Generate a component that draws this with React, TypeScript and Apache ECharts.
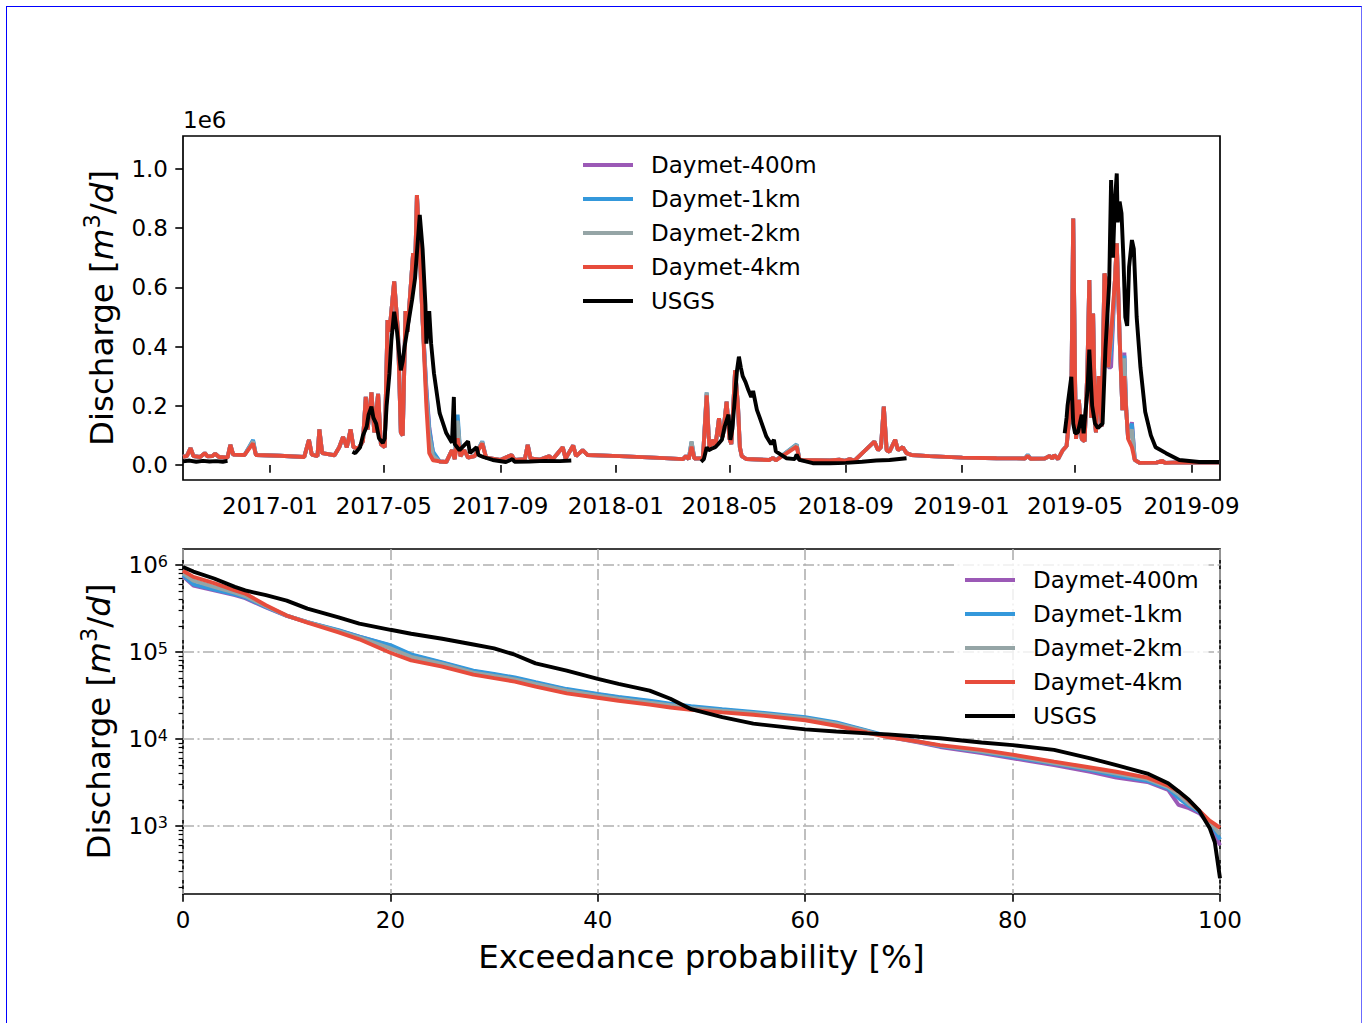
import React, { useEffect, useRef } from 'react';
import * as echarts from 'echarts';

const FONT = "'DejaVu Sans', sans-serif";

const seriesNames = ['Daymet-400m', 'Daymet-1km', 'Daymet-2km', 'Daymet-4km', 'USGS'];
const seriesColors = ['#9b59b6', '#3498db', '#95a5a6', '#e74c3c', '#000000'];

// ---------- top panel: daily discharge [m3/d] ----------
const daymet4km: [string, number][] = [
  ['2016-10-01', 28000], ['2016-10-05', 30000], ['2016-10-09', 57000], ['2016-10-12', 30000],
  ['2016-10-19', 27000], ['2016-10-24', 40000], ['2016-10-27', 29000], ['2016-11-01', 30000],
  ['2016-11-04', 38000], ['2016-11-08', 27000], ['2016-11-17', 25000], ['2016-11-20', 68000],
  ['2016-11-23', 35000], ['2016-12-05', 34000], ['2016-12-14', 73000], ['2016-12-17', 34000],
  ['2017-01-11', 31000], ['2017-02-06', 27000], ['2017-02-11', 85000], ['2017-02-14', 35000],
  ['2017-02-20', 30000], ['2017-02-22', 120000], ['2017-02-25', 40000], ['2017-03-10', 33000],
  ['2017-03-15', 60000], ['2017-03-19', 95000], ['2017-03-23', 60000], ['2017-03-27', 120000],
  ['2017-03-30', 60000], ['2017-04-04', 55000], ['2017-04-09', 80000], ['2017-04-12', 230000],
  ['2017-04-14', 120000], ['2017-04-18', 245000], ['2017-04-21', 110000], ['2017-04-25', 240000],
  ['2017-04-28', 70000], ['2017-05-02', 60000], ['2017-05-05', 490000], ['2017-05-07', 450000],
  ['2017-05-12', 620000], ['2017-05-16', 450000], ['2017-05-19', 110000], ['2017-05-21', 100000],
  ['2017-05-24', 520000], ['2017-05-26', 450000], ['2017-06-01', 716000], ['2017-06-03', 650000],
  ['2017-06-05', 912000], ['2017-06-08', 720000], ['2017-06-11', 490000], ['2017-06-15', 197000],
  ['2017-06-18', 40000], ['2017-06-22', 16000], ['2017-06-29', 12000], ['2017-07-06', 10000],
  ['2017-07-12', 50000], ['2017-07-15', 20000], ['2017-07-18', 90000], ['2017-07-21', 30000],
  ['2017-07-25', 50000], ['2017-07-29', 25000], ['2017-08-05', 30000], ['2017-08-13', 73000],
  ['2017-08-17', 25000], ['2017-09-01', 17000], ['2017-09-13', 34000], ['2017-09-16', 17000],
  ['2017-09-27', 20000], ['2017-09-30', 68000], ['2017-10-03', 22000], ['2017-10-13', 18000],
  ['2017-10-23', 30000], ['2017-10-26', 18000], ['2017-11-06', 60000], ['2017-11-09', 22000],
  ['2017-11-17', 66000], ['2017-11-20', 30000], ['2017-11-27', 50000], ['2017-12-02', 34000],
  ['2018-01-05', 30000], ['2018-02-16', 24000], ['2018-03-13', 20000], ['2018-03-16', 30000],
  ['2018-03-19', 20000], ['2018-03-22', 62000], ['2018-03-25', 22000], ['2018-04-03', 23000],
  ['2018-04-07', 235000], ['2018-04-09', 100000], ['2018-04-10', 60000], ['2018-04-14', 85000],
  ['2018-04-16', 60000], ['2018-04-20', 158000], ['2018-04-22', 100000], ['2018-04-24', 95000],
  ['2018-04-28', 214000], ['2018-05-01', 90000], ['2018-05-03', 70000], ['2018-05-07', 320000],
  ['2018-05-10', 200000], ['2018-05-12', 60000], ['2018-05-14', 30000], ['2018-05-19', 20000],
  ['2018-06-12', 17000], ['2018-06-16', 24000], ['2018-06-19', 16000], ['2018-07-11', 62000],
  ['2018-07-14', 17000], ['2018-08-15', 15000], ['2018-08-25', 18000], ['2018-08-31', 14000],
  ['2018-09-05', 20000], ['2018-09-10', 15000], ['2018-10-01', 79000], ['2018-10-05', 50000],
  ['2018-10-08', 60000], ['2018-10-11', 197000], ['2018-10-14', 50000], ['2018-10-17', 45000],
  ['2018-10-23', 85000], ['2018-10-26', 50000], ['2018-10-31', 60000], ['2018-11-04', 40000],
  ['2018-11-09', 34000], ['2018-11-28', 30000], ['2019-01-02', 25000], ['2019-02-07', 23000],
  ['2019-03-09', 22000], ['2019-03-12', 30000], ['2019-03-15', 21000], ['2019-03-30', 22000],
  ['2019-04-04', 30000], ['2019-04-07', 22000], ['2019-04-09', 33000], ['2019-04-13', 20000],
  ['2019-04-18', 50000], ['2019-04-22', 64000], ['2019-04-25', 163000], ['2019-04-27', 220000],
  ['2019-04-29', 833000], ['2019-05-01', 276000], ['2019-05-02', 88000], ['2019-05-05', 220000],
  ['2019-05-08', 88000], ['2019-05-11', 80000], ['2019-05-14', 320000], ['2019-05-16', 625000],
  ['2019-05-18', 160000], ['2019-05-20', 512000], ['2019-05-22', 150000], ['2019-05-23', 110000],
  ['2019-05-26', 300000], ['2019-05-29', 130000], ['2019-06-01', 647000], ['2019-06-03', 620000],
  ['2019-06-05', 330000], ['2019-06-08', 440000], ['2019-06-12', 620000], ['2019-06-14', 749000],
  ['2019-06-17', 430000], ['2019-06-20', 185000], ['2019-06-22', 300000], ['2019-06-24', 185000],
  ['2019-06-26', 88000], ['2019-06-30', 60000], ['2019-07-03', 17000], ['2019-07-08', 7000],
  ['2019-07-26', 8000], ['2019-08-01', 14000], ['2019-08-04', 7000], ['2019-08-19', 9000],
  ['2019-09-09', 8000], ['2019-09-30', 8000],
];

// days where the finer-resolution runs differ visibly from Daymet-4km
const daymet400mDiff: [string, number][] = [
  ['2016-12-14', 80000], ['2017-06-15', 260000], ['2017-06-18', 130000], ['2017-06-22', 40000],
  ['2017-07-18', 140000], ['2017-08-13', 76000], ['2018-03-22', 75000], ['2018-04-07', 240000],
  ['2018-07-11', 66000], ['2019-03-12', 33000], ['2019-06-08', 330000], ['2019-06-22', 380000],
  ['2019-06-30', 145000],
];
const daymet1kmDiff: [string, number][] = [
  ['2016-12-14', 85000], ['2017-06-15', 250000], ['2017-06-18', 120000], ['2017-06-22', 45000],
  ['2017-07-18', 170000], ['2017-08-13', 80000], ['2018-03-22', 78000], ['2018-04-07', 245000],
  ['2018-07-11', 70000], ['2019-03-12', 35000], ['2019-06-08', 380000], ['2019-06-22', 370000],
  ['2019-06-30', 140000],
];
const daymet2kmDiff: [string, number][] = [
  ['2016-12-14', 80000], ['2017-06-15', 230000], ['2017-06-18', 100000], ['2017-06-22', 30000],
  ['2017-07-18', 150000], ['2017-08-13', 78000], ['2018-03-22', 80000], ['2018-04-07', 245000],
  ['2018-07-11', 68000], ['2019-03-12', 33000], ['2019-06-08', 420000], ['2019-06-22', 360000],
  ['2019-06-30', 120000],
];

// observed; null = no record (winter ice)
const usgsObserved: [string, number | null][] = [
  ['2016-10-01', 12000], ['2016-10-08', 15000], ['2016-10-15', 11000], ['2016-10-22', 14000],
  ['2016-10-29', 12000], ['2016-11-05', 13000], ['2016-11-12', 11000], ['2016-11-17', 14000],
  ['2017-01-15', null],
  ['2017-03-29', 45000], ['2017-04-01', 40000], ['2017-04-06', 60000], ['2017-04-09', 100000],
  ['2017-04-13', 130000], ['2017-04-15', 170000], ['2017-04-18', 197000], ['2017-04-20', 160000],
  ['2017-04-23', 140000], ['2017-04-26', 90000], ['2017-04-30', 74000], ['2017-05-02', 90000],
  ['2017-05-04', 200000], ['2017-05-07', 310000], ['2017-05-09', 420000], ['2017-05-12', 518000],
  ['2017-05-15', 450000], ['2017-05-19', 320000], ['2017-05-21', 350000], ['2017-05-23', 400000],
  ['2017-05-25', 440000], ['2017-05-28', 500000], ['2017-05-31', 560000], ['2017-06-03', 630000],
  ['2017-06-06', 760000], ['2017-06-08', 845000], ['2017-06-11', 730000], ['2017-06-14', 540000],
  ['2017-06-15', 410000], ['2017-06-18', 520000], ['2017-06-20', 410000], ['2017-06-23', 310000],
  ['2017-06-29', 175000], ['2017-07-06', 108000], ['2017-07-12', 75000], ['2017-07-14', 230000],
  ['2017-07-15', 70000], ['2017-07-20', 50000], ['2017-07-29', 80000], ['2017-07-31', 40000],
  ['2017-08-07', 60000], ['2017-08-09', 34000], ['2017-08-14', 27000], ['2017-08-24', 17000],
  ['2017-09-07', 10000], ['2017-09-14', 20000], ['2017-09-16', 11000], ['2017-10-02', 12000],
  ['2017-10-18', 14000], ['2017-11-03', 13000], ['2017-11-15', 15000],
  ['2018-01-15', null],
  ['2018-04-01', 11000], ['2018-04-04', 20000], ['2018-04-07', 60000], ['2018-04-09', 50000],
  ['2018-04-12', 55000], ['2018-04-16', 60000], ['2018-04-19', 70000], ['2018-04-23', 85000],
  ['2018-04-26', 130000], ['2018-04-30', 170000], ['2018-05-02', 85000], ['2018-05-04', 120000],
  ['2018-05-06', 197000], ['2018-05-09', 320000], ['2018-05-11', 366000], ['2018-05-13', 330000],
  ['2018-05-15', 300000], ['2018-05-18', 280000], ['2018-05-21', 253000], ['2018-05-24', 230000],
  ['2018-05-26', 250000], ['2018-05-30', 186000], ['2018-06-02', 160000], ['2018-06-09', 96000],
  ['2018-06-14', 70000], ['2018-06-17', 85000], ['2018-06-19', 46000], ['2018-06-30', 23000],
  ['2018-07-09', 20000], ['2018-07-11', 35000], ['2018-07-14', 17000], ['2018-07-28', 6000],
  ['2018-08-15', 6000], ['2018-09-01', 7000], ['2018-09-18', 11000], ['2018-10-03', 15000],
  ['2018-10-17', 17000], ['2018-11-04', 23000],
  ['2019-01-15', null],
  ['2019-04-20', 107000], ['2019-04-22', 160000], ['2019-04-23', 200000], ['2019-04-27', 298000],
  ['2019-04-29', 140000], ['2019-05-01', 107000], ['2019-05-04', 110000], ['2019-05-08', 170000],
  ['2019-05-10', 107000], ['2019-05-14', 250000], ['2019-05-16', 390000], ['2019-05-19', 200000],
  ['2019-05-22', 140000], ['2019-05-25', 125000], ['2019-05-30', 140000], ['2019-06-02', 390000],
  ['2019-06-06', 614000], ['2019-06-08', 963000], ['2019-06-10', 700000], ['2019-06-12', 890000],
  ['2019-06-14', 985000], ['2019-06-15', 820000], ['2019-06-17', 890000], ['2019-06-19', 850000],
  ['2019-06-21', 700000], ['2019-06-23', 500000], ['2019-06-25', 470000], ['2019-06-27', 670000],
  ['2019-06-30', 760000], ['2019-07-02', 730000], ['2019-07-05', 500000], ['2019-07-09', 330000],
  ['2019-07-14', 180000], ['2019-07-20', 100000], ['2019-07-25', 60000], ['2019-08-05', 40000],
  ['2019-08-19', 17000], ['2019-09-09', 10000], ['2019-09-30', 10000],
];

const dateTicks = ['2017-01-01', '2017-05-01', '2017-09-01', '2018-01-01', '2018-05-01',
  '2018-09-01', '2019-01-01', '2019-05-01', '2019-09-01'];
const topYTicks = [0, 200000, 400000, 600000, 800000, 1000000];

// ---------- bottom panel: flow duration curves ----------
const exceedanceP = [0, 1, 3, 5, 6, 8, 10, 12, 15, 17, 20, 22, 25, 28, 30, 32, 34, 37, 40, 42, 45,
  47, 49, 52, 55, 60, 63, 66, 68, 71, 73, 77, 80, 84, 87.5, 90, 93, 95, 96, 97, 98, 99, 99.5, 100];
const fdc400m = [740000, 580000, 510000, 450000, 415000, 325000, 260000, 220000, 176000, 150000,
  118000, 92000, 75000, 60000, 55000, 50000, 44000, 37000, 32500, 30000, 27000, 25000, 23300,
  21500, 20000, 17400, 15200, 12300, 10600, 9100, 8100, 6900, 6000, 5000, 4200, 3600, 3200, 2600,
  1750, 1600, 1400, 1050, 800, 600];
const fdc1km = [760000, 600000, 520000, 460000, 425000, 330000, 262000, 220000, 178000, 150000,
  120000, 94000, 76000, 61000, 56000, 51000, 45000, 37500, 33000, 30500, 27500, 25500, 23800,
  22000, 20500, 17800, 15500, 12500, 10800, 9300, 8300, 7100, 6200, 5200, 4400, 3800, 3300, 2700,
  2100, 1700, 1450, 1100, 900, 700];
const fdc2km = [800000, 660000, 560000, 480000, 440000, 335000, 262000, 220000, 174000, 146000,
  110000, 88000, 73000, 58000, 53000, 48500, 43000, 36000, 31500, 29000, 26200, 24500, 22800,
  21200, 19800, 17200, 15000, 12200, 10600, 9200, 8400, 7200, 6400, 5300, 4500, 4000, 3450, 2800,
  2300, 1800, 1500, 1100, 950, 800];
const fdc4km = [860000, 730000, 620000, 510000, 470000, 345000, 262000, 218000, 168000, 140000,
  98000, 80000, 68000, 55000, 50000, 45600, 40000, 33500, 29800, 27500, 24800, 23000, 21600,
  20200, 19000, 16400, 14200, 11800, 10500, 9300, 8500, 7500, 6600, 5500, 4700, 4200, 3600, 2900,
  2500, 1950, 1500, 1150, 1050, 950];
const fdcUSGS = [950000, 840000, 700000, 560000, 510000, 450000, 390000, 315000, 250000, 212000,
  180000, 162000, 142000, 122000, 110000, 93000, 74000, 61000, 49000, 43000, 36000, 29000, 22000,
  17800, 15000, 12900, 12200, 11600, 11300, 10600, 10200, 9100, 8500, 7500, 6000, 5000, 4000,
  3100, 2500, 2000, 1500, 950, 650, 250];
const fdcMajorTicks = [1e3, 1e4, 1e5, 1e6];
const fdcMinorTicks = [200, 300, 400, 500, 600, 700, 800, 900, 2e3, 3e3, 4e3, 5e3, 6e3, 7e3, 8e3,
  9e3, 2e4, 3e4, 4e4, 5e4, 6e4, 7e4, 8e4, 9e4, 2e5, 3e5, 4e5, 5e5, 6e5, 7e5, 8e5, 9e5];

// ---------- builders ----------
const ts = (d: string) => Date.parse(d);

function withDiffs(base: [string, number][], diffs: [string, number][]) {
  const m = new Map<string, number>(base);
  diffs.forEach(([d, v]) => m.set(d, v));
  return [...m.entries()].sort((a, b) => (a[0] < b[0] ? -1 : 1)).map(([d, v]) => [ts(d), v]);
}

const topData = [
  withDiffs(daymet4km, daymet400mDiff),
  withDiffs(daymet4km, daymet1kmDiff),
  withDiffs(daymet4km, daymet2kmDiff),
  daymet4km.map(([d, v]) => [ts(d), v]),
  usgsObserved.map(([d, v]) => [ts(d), v === null ? '-' : v]),
];
const fdcAll = [fdc400m, fdc1km, fdc2km, fdc4km, fdcUSGS];

const lg = Math.log10;
const LOG_MIN = 2.218;
const LOG_MAX = 6.184;

const TICK_FS = 23;
const NAME_FS = 32.5;
const LINE_W = 3.9;

const tickStyle = { color: '#000', width: 1.6 };
const gridDash = { color: '#b0b0b0', width: 1.6, type: [11, 3.5, 2, 3.5] };

const fmtDate = (v: number) => {
  const d = new Date(v);
  return `${d.getUTCFullYear()}-${String(d.getUTCMonth() + 1).padStart(2, '0')}`;
};

const nameRich = {
  t: { fontSize: NAME_FS, lineHeight: 38, verticalAlign: 'bottom', fontFamily: FONT, color: '#000' },
  i: { fontSize: NAME_FS, lineHeight: 38, verticalAlign: 'bottom', fontStyle: 'italic', fontFamily: FONT, color: '#000' },
  s: { fontSize: 22.5, lineHeight: 22, verticalAlign: 'top', padding: [0, 0, 17, 0], fontFamily: FONT, color: '#000' },
};
const yName = '{t|Discharge [}{i|m}{s|3}{t|/}{i|d}{t|]}';

const legendBase = {
  orient: 'vertical',
  padding: [8, 10, 8, 10],
  itemWidth: 50,
  itemHeight: 4,
  itemGap: 10,
  icon: 'rect',
  selectedMode: false,
  backgroundColor: 'rgba(255,255,255,0.8)',
  textStyle: { fontSize: TICK_FS, lineHeight: 24, fontFamily: FONT, color: '#000', padding: [0, 0, 0, 13] },
  data: seriesNames,
};

const option = {
  animation: false,
  backgroundColor: '#fff',
  textStyle: { fontFamily: FONT },
  grid: [
    { left: 183, top: 136, width: 1037, height: 344, show: true, borderColor: '#000', borderWidth: 1.7, backgroundColor: 'transparent' },
    { left: 183, top: 549, width: 1037, height: 345, show: true, borderColor: '#000', borderWidth: 1.7, backgroundColor: 'transparent' },
  ],
  legend: [
    { ...legendBase, left: 573, top: 145 },
    { ...legendBase, left: 955, top: 560 },
  ],
  xAxis: [
    {
      type: 'value', gridIndex: 0, min: ts('2016-10-01'), max: ts('2019-10-01'),
      axisLine: { show: false },
      axisTick: { customValues: dateTicks.map(ts), length: 7.7, lineStyle: tickStyle },
      axisLabel: { customValues: dateTicks.map(ts), formatter: fmtDate, margin: 14.5, fontSize: TICK_FS, color: '#000', fontFamily: FONT },
      splitLine: { show: false },
    },
    {
      type: 'value', gridIndex: 1, min: 0, max: 100, interval: 20,
      axisLine: { show: false },
      axisTick: { length: 7.7, lineStyle: tickStyle },
      axisLabel: { margin: 14.5, fontSize: TICK_FS, color: '#000', fontFamily: FONT },
      splitLine: { show: true, lineStyle: gridDash },
      name: 'Exceedance probability [%]', nameLocation: 'middle', nameGap: 63,
      nameTextStyle: { fontSize: NAME_FS, color: '#000', fontFamily: FONT, verticalAlign: 'middle' },
    },
  ],
  yAxis: [
    {
      type: 'value', gridIndex: 0, min: -50700, max: 1111500,
      axisLine: { show: false },
      axisTick: { customValues: topYTicks, length: 7.7, lineStyle: tickStyle },
      axisLabel: { customValues: topYTicks, formatter: (v: number) => (v / 1e6).toFixed(1), margin: 15, fontSize: TICK_FS, color: '#000', fontFamily: FONT },
      splitLine: { show: false },
      name: yName, nameLocation: 'middle', nameGap: 84, nameRotate: 90,
      nameTextStyle: { verticalAlign: 'middle', align: 'center', rich: nameRich },
    },
    {
      type: 'value', gridIndex: 1, min: LOG_MIN, max: LOG_MAX,
      axisLine: { show: false },
      axisTick: { customValues: fdcMajorTicks.map(lg), length: 7.7, lineStyle: tickStyle },
      axisLabel: {
        customValues: fdcMajorTicks.map(lg),
        formatter: (v: number) => `{b|10}{s|${Math.round(v)}}`,
        margin: 15,
        rich: {
          b: { fontSize: TICK_FS, lineHeight: 23, verticalAlign: 'bottom', fontFamily: FONT, color: '#000' },
          s: { fontSize: 16, lineHeight: 16, verticalAlign: 'top', padding: [0, 0, 10.5, 0], fontFamily: FONT, color: '#000' },
        },
      },
      splitLine: { show: true, customValues: fdcMajorTicks.map(lg), lineStyle: gridDash },
      name: yName, nameLocation: 'middle', nameGap: 86, nameRotate: 90,
      nameTextStyle: { verticalAlign: 'middle', align: 'center', rich: nameRich },
    },
    {
      type: 'value', gridIndex: 1, min: LOG_MIN, max: LOG_MAX, position: 'left', offset: 0,
      axisLine: { show: false },
      axisTick: { customValues: fdcMinorTicks.map(lg), length: 4.4, lineStyle: { color: '#000', width: 1.2 } },
      axisLabel: { show: false },
      splitLine: { show: false },
    },
  ],
  graphic: [
    { type: 'text', left: 183, top: 108, style: { text: '1e6', fontSize: TICK_FS, fontFamily: FONT, fill: '#000' } },
  ],
  series: [
    ...seriesNames.map((name, i) => ({
      type: 'line', name, xAxisIndex: 0, yAxisIndex: 0,
      data: topData[i], showSymbol: false, symbol: 'none', connectNulls: false,
      color: seriesColors[i],
      lineStyle: { color: seriesColors[i], width: LINE_W },
      emphasis: { disabled: true },
    })),
    ...seriesNames.map((name, i) => ({
      type: 'line', name, xAxisIndex: 1, yAxisIndex: 1,
      data: exceedanceP.map((p, k) => [p, lg(fdcAll[i][k])]),
      showSymbol: false, symbol: 'none',
      color: seriesColors[i],
      lineStyle: { color: seriesColors[i], width: LINE_W },
      emphasis: { disabled: true },
    })),
  ],
};

export default function App() {
  const ref = useRef<HTMLDivElement>(null);
  useEffect(() => {
    const chart = echarts.init(ref.current!, null, { renderer: 'svg' });
    chart.setOption(option as any);
    return () => chart.dispose();
  }, []);
  return (
    <>
      <div ref={ref} style={{ position: 'absolute', left: 0, top: 0, width: 1368, height: 1023, background: '#fff' }} />
      <div
        style={{
          position: 'absolute', left: 6, top: 6, width: 1356, height: 1017, boxSizing: 'border-box',
          borderTop: '1px solid #0000ff', borderLeft: '1px solid #0000ff', borderRight: '1px solid #6b6bff',
          pointerEvents: 'none',
        }}
      />
    </>
  );
}
